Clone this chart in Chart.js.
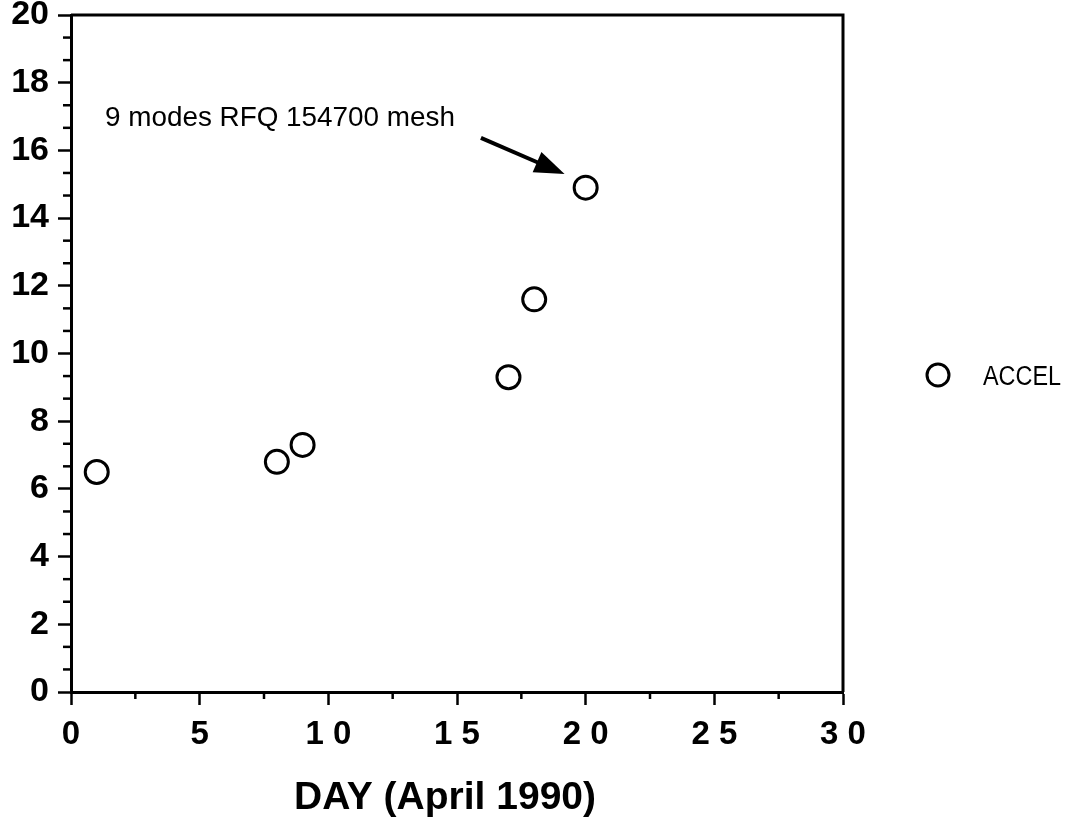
<!DOCTYPE html>
<html>
<head>
<meta charset="utf-8">
<script src="https://cdn.jsdelivr.net/npm/chart.js@4"></script>
<style>
html,body{margin:0;padding:0;background:#fff;}
#wrap{width:1074px;height:840px;}
</style>
</head>
<body>
<div id="wrap"><canvas id="c" width="1074" height="840"></canvas></div>
<script>
// ---- data ----
const days = [1, 8, 9, 17, 18, 20];
const accel = [6.5, 6.8, 7.3, 9.3, 11.6, 14.9];
const seriesLabel = 'ACCEL';
const xTitle = 'DAY (April 1990)';
const annotationText = '9 modes RFQ 154700 mesh';
const xTickValues = [0, 5, 10, 15, 20, 25, 30];
const yTickValues = [0, 2, 4, 6, 8, 10, 12, 14, 16, 18, 20];

const points = days.map((d, i) => ({x: d, y: accel[i]}));
const FONT = '"Liberation Sans", Arial, Helvetica, sans-serif';

function fitText(ctx, text, x, y, targetWidth) {
  const w = ctx.measureText(text).width;
  const s = targetWidth / w;
  ctx.save();
  ctx.translate(x, y);
  ctx.scale(s, 1);
  ctx.fillText(text, 0, 0);
  ctx.restore();
}

const decor = {
  id: 'decor',
  afterDraw(chart) {
    const ctx = chart.ctx;
    const xs = chart.scales.x, ys = chart.scales.y;
    const a = chart.chartArea;
    ctx.save();
    ctx.strokeStyle = '#000';
    ctx.fillStyle = '#000';
    // frame top and right
    ctx.lineWidth = 3;
    ctx.beginPath();
    ctx.moveTo(a.left, a.top);
    ctx.lineTo(a.right, a.top);
    ctx.lineTo(a.right, a.bottom);
    ctx.stroke();
    // minor ticks x
    ctx.lineWidth = 2.5;
    for (let v = 2.5; v < 30; v += 5) {
      const px = xs.getPixelForValue(v);
      ctx.beginPath();
      ctx.moveTo(px, a.bottom);
      ctx.lineTo(px, a.bottom + 7);
      ctx.stroke();
    }
    // minor ticks y (thirds of major step)
    for (let k = 1; k < 30; k++) {
      if (k % 3 === 0) continue;
      const py = ys.getPixelForValue(k * 2 / 3);
      ctx.beginPath();
      ctx.moveTo(a.left, py);
      ctx.lineTo(a.left - 8, py);
      ctx.stroke();
    }
    // annotation text
    ctx.font = '28px ' + FONT;
    ctx.textAlign = 'left';
    ctx.textBaseline = 'alphabetic';
    fitText(ctx, annotationText, xs.getPixelForValue(1.32), ys.getPixelForValue(16.72), 350);
    // arrow
    const x0 = xs.getPixelForValue(15.93), y0 = ys.getPixelForValue(16.37);
    const x1 = xs.getPixelForValue(19.18), y1 = ys.getPixelForValue(15.30);
    const ang = Math.atan2(y1 - y0, x1 - x0);
    const hl = 30, hw = 11;
    const bx = x1 - hl * Math.cos(ang), by = y1 - hl * Math.sin(ang);
    ctx.lineWidth = 4;
    ctx.beginPath();
    ctx.moveTo(x0, y0);
    ctx.lineTo(bx + 4 * Math.cos(ang), by + 4 * Math.sin(ang));
    ctx.stroke();
    ctx.beginPath();
    ctx.moveTo(x1, y1);
    ctx.lineTo(bx + hw * Math.sin(ang), by - hw * Math.cos(ang));
    ctx.lineTo(bx - hw * Math.sin(ang), by + hw * Math.cos(ang));
    ctx.closePath();
    ctx.fill();
    // legend
    ctx.lineWidth = 3;
    ctx.beginPath();
    ctx.arc(938, 375, 11, 0, Math.PI * 2);
    ctx.stroke();
    ctx.font = '27px ' + FONT;
    ctx.textBaseline = 'alphabetic';
    fitText(ctx, seriesLabel, 983, 385, 78);
    // x title
    ctx.font = 'bold 39px ' + FONT;
    ctx.textAlign = 'center';
    ctx.textBaseline = 'alphabetic';
    ctx.fillText(xTitle, 445, 809);
    ctx.restore();
  }
};

new Chart(document.getElementById('c'), {
  type: 'scatter',
  data: {
    datasets: [{
      label: seriesLabel,
      data: points,
      pointStyle: 'circle',
      pointRadius: 11.5,
      pointHoverRadius: 11.5,
      pointBorderWidth: 3,
      pointBorderColor: '#000',
      pointBackgroundColor: 'rgba(255,255,255,0)',
      showLine: false
    }]
  },
  options: {
    responsive: false,
    animation: false,
    events: [],
    layout: {padding: {top: 15, right: 231, left: 0, bottom: 0}},
    plugins: {legend: {display: false}, tooltip: {enabled: false}},
    scales: {
      x: {
        type: 'linear',
        min: 0, max: 30,
        afterBuildTicks: s => { s.ticks = xTickValues.map(v => ({value: v})); },
        afterFit: s => { s.height = 148; s.paddingLeft = 0; s.paddingRight = 0; },
        border: {display: true, color: '#000', width: 3},
        grid: {drawOnChartArea: false, drawTicks: true, tickLength: 13, tickWidth: 2.5, tickColor: '#000'},
        ticks: {
          color: '#000',
          padding: 10,
          maxRotation: 0,
          autoSkip: false,
          font: {family: FONT, size: 33, weight: 'bold'},
          callback: v => String(v).split('').join(' ')
        }
      },
      y: {
        type: 'linear',
        min: 0, max: 20,
        afterBuildTicks: s => { s.ticks = yTickValues.map(v => ({value: v})); },
        afterFit: s => { s.width = 71; s.paddingTop = 0; s.paddingBottom = 0; },
        border: {display: true, color: '#000', width: 3},
        grid: {drawOnChartArea: false, drawTicks: true, tickLength: 13, tickWidth: 2.5, tickColor: '#000'},
        ticks: {
          color: '#000',
          padding: 9,
          font: {family: FONT, size: 34, weight: 'bold'},
          callback: v => String(v)
        }
      }
    }
  },
  plugins: [decor]
});
</script>
</body>
</html>
